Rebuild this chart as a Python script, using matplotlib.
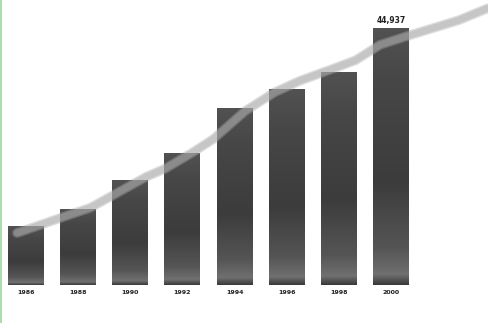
import numpy as np
import matplotlib
matplotlib.use('Agg')
import matplotlib.pyplot as plt
from matplotlib.colors import LinearSegmentedColormap

# data
years = ['1986', '1988', '1990', '1992', '1994', '1996', '1998', '2000']
values = [10300, 13300, 18350, 23100, 30950, 34250, 37250, 44937]

# trend line, sampled along the curve (x in bar-index units)
line_x = [-0.17, 0.65, 1.23, 1.61, 2.3, 2.68, 3.18, 3.59, 4.2, 4.77, 5.25, 5.88, 6.32, 6.79, 7.3, 8.3, 8.86]
line_y = [9100, 11700, 13500, 15400, 18900, 20400, 23100, 25500, 30400, 33700, 35700, 37800, 39300, 42000, 43500, 46300, 48400]

top_label = '44,937'

fig = plt.figure(figsize=(4.88, 3.23), dpi=100)
ax = fig.add_axes([0, 0, 1, 1])
ax.set_xlim(-0.499, 8.86)
ax.set_ylim(-6644, 49832)
ax.axis('off')

cmap = LinearSegmentedColormap.from_list(
    'bar', [(0.0, '#3a3a3a'), (0.04, '#707070'), (0.14, '#555555'),
            (0.4, '#3c3c3c'), (0.8, '#474747'), (1.0, '#525252')])
grad = np.linspace(0, 1, 256).reshape(-1, 1)

width = 0.69
bars = ax.bar(range(len(values)), values, width=width, color='none', zorder=2)
for b, v in zip(bars, values):
    x0 = b.get_x()
    im = ax.imshow(grad, cmap=cmap, aspect='auto', zorder=2,
                   extent=[x0, x0 + width, 0, v], origin='lower')
    im.set_clip_path(b)

ax.plot(line_x, line_y, color='#aaaaaa', alpha=0.4, lw=7, solid_capstyle='round', zorder=3)
ax.plot(line_x, line_y, color='#aaaaaa', alpha=0.45, lw=5, solid_capstyle='round', zorder=3)

for i, y in enumerate(years):
    ax.text(i, -1300, y, ha='center', va='center', fontsize=4.5,
            fontweight='bold', color='#222222')

ax.text(7, values[-1] + 1300, top_label, ha='center', va='center', fontsize=5.5,
        fontweight='bold', color='#222222', zorder=4)

# thin green edge on the left
fig.add_artist(plt.Line2D([0.002, 0.002], [0, 1], color='#9ad89a', lw=1.2))

fig.savefig('out.png', dpi=100)
